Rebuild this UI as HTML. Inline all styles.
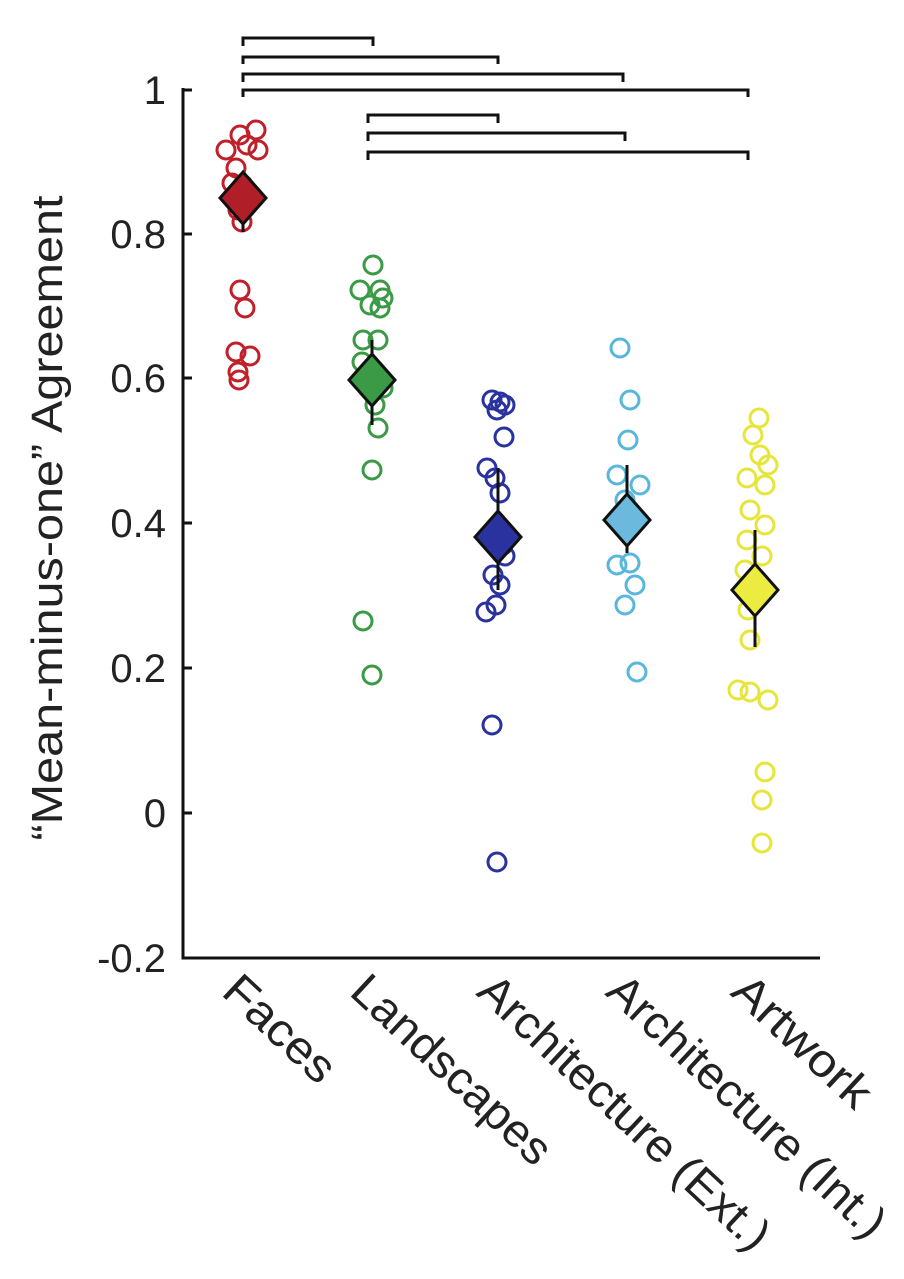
<!DOCTYPE html>
<html><head><meta charset="utf-8"><style>html,body{margin:0;padding:0;background:#fff}svg{display:block}</style></head>
<body>
<svg width="904" height="1279" viewBox="0 0 904 1279" xmlns="http://www.w3.org/2000/svg" font-family="Liberation Sans, Arial, sans-serif">
<g stroke="#111" stroke-width="3" fill="none">
<path d="M243,46 V38 H373 V46"/>
<path d="M243,64 V57 H498 V64"/>
<path d="M243,82 V74 H623 V82"/>
<path d="M243,97 V90 H748 V97"/>
<path d="M368,123 V115 H498 V123"/>
<path d="M368,141 V133 H625 V141"/>
<path d="M368,160 V152 H748 V160"/>
<path d="M183,88 V958 H820"/>
<path d="M183,90 H192 M183,234 H192 M183,378 H192 M183,523 H192 M183,668 H192 M183,813 H192"/>
</g>
<g font-size="40" fill="#222" text-anchor="end">
<text x="166" y="104">1</text>
<text x="166" y="248">0.8</text>
<text x="166" y="392">0.6</text>
<text x="166" y="537">0.4</text>
<text x="166" y="682">0.2</text>
<text x="166" y="827">0</text>
<text x="166" y="972">-0.2</text>
</g>
<text transform="translate(62,518) rotate(-90)" font-size="44" fill="#222" text-anchor="middle" textLength="645" lengthAdjust="spacingAndGlyphs">“Mean-minus-one” Agreement</text>
<g font-size="46" fill="#222">
<text transform="translate(220,994) rotate(43)" textLength="135" lengthAdjust="spacingAndGlyphs">Faces</text>
<text transform="translate(348,994) rotate(43)" textLength="255" lengthAdjust="spacingAndGlyphs">Landscapes</text>
<text transform="translate(475,994) rotate(43)" textLength="380" lengthAdjust="spacingAndGlyphs">Architecture (Ext.)</text>
<text transform="translate(604,994) rotate(43)" textLength="362" lengthAdjust="spacingAndGlyphs">Architecture (Int.)</text>
<text transform="translate(729,994) rotate(43)" textLength="172" lengthAdjust="spacingAndGlyphs">Artwork</text>
</g>
<g fill="none" stroke-width="3">
<g stroke="#c0202a">
<circle cx="240" cy="135" r="9"/><circle cx="256" cy="130" r="9"/><circle cx="247" cy="145" r="9"/><circle cx="226" cy="150" r="9"/><circle cx="258" cy="150" r="9"/><circle cx="236" cy="168" r="9"/><circle cx="232" cy="183" r="9"/><circle cx="243" cy="185" r="9"/><circle cx="250" cy="195" r="9"/><circle cx="238" cy="210" r="9"/><circle cx="242" cy="222" r="9"/><circle cx="240" cy="290" r="9"/><circle cx="245" cy="308" r="9"/><circle cx="236" cy="352" r="9"/><circle cx="250" cy="356" r="9"/><circle cx="238" cy="372" r="9"/><circle cx="239" cy="380" r="9"/>
</g>
<g stroke="#3a9a45">
<circle cx="373" cy="265" r="9"/><circle cx="360" cy="290" r="9"/><circle cx="380" cy="290" r="9"/><circle cx="383" cy="298" r="9"/><circle cx="370" cy="305" r="9"/><circle cx="380" cy="308" r="9"/><circle cx="363" cy="340" r="9"/><circle cx="378" cy="340" r="9"/><circle cx="362" cy="362" r="9"/><circle cx="375" cy="372" r="9"/><circle cx="383" cy="388" r="9"/><circle cx="375" cy="405" r="9"/><circle cx="378" cy="428" r="9"/><circle cx="372" cy="470" r="9"/><circle cx="363" cy="621" r="9"/><circle cx="372" cy="675" r="9"/>
</g>
<g stroke="#2a32a0">
<circle cx="492" cy="400" r="9"/><circle cx="500" cy="402" r="9"/><circle cx="497" cy="410" r="9"/><circle cx="505" cy="405" r="9"/><circle cx="504" cy="437" r="9"/><circle cx="487" cy="468" r="9"/><circle cx="495" cy="478" r="9"/><circle cx="500" cy="493" r="9"/><circle cx="490" cy="540" r="9"/><circle cx="497" cy="548" r="9"/><circle cx="503" cy="545" r="9"/><circle cx="505" cy="556" r="9"/><circle cx="493" cy="575" r="9"/><circle cx="500" cy="585" r="9"/><circle cx="486" cy="612" r="9"/><circle cx="496" cy="605" r="9"/><circle cx="492" cy="725" r="9"/><circle cx="497" cy="862" r="9"/>
</g>
<g stroke="#5ab7dc">
<circle cx="620" cy="348" r="9"/><circle cx="630" cy="400" r="9"/><circle cx="628" cy="440" r="9"/><circle cx="617" cy="475" r="9"/><circle cx="640" cy="485" r="9"/><circle cx="625" cy="500" r="9"/><circle cx="623" cy="517" r="9"/><circle cx="617" cy="565" r="9"/><circle cx="630" cy="563" r="9"/><circle cx="635" cy="585" r="9"/><circle cx="625" cy="605" r="9"/><circle cx="637" cy="672" r="9"/>
</g>
<g stroke="#e6e63a">
<circle cx="759" cy="418" r="9"/><circle cx="753" cy="435" r="9"/><circle cx="760" cy="455" r="9"/><circle cx="768" cy="465" r="9"/><circle cx="747" cy="478" r="9"/><circle cx="765" cy="485" r="9"/><circle cx="750" cy="510" r="9"/><circle cx="765" cy="525" r="9"/><circle cx="747" cy="540" r="9"/><circle cx="762" cy="556" r="9"/><circle cx="745" cy="570" r="9"/><circle cx="748" cy="610" r="9"/><circle cx="750" cy="640" r="9"/><circle cx="738" cy="690" r="9"/><circle cx="750" cy="692" r="9"/><circle cx="768" cy="700" r="9"/><circle cx="765" cy="772" r="9"/><circle cx="762" cy="800" r="9"/><circle cx="762" cy="843" r="9"/>
</g>
</g>
<g stroke="#111" stroke-width="3">
<line x1="243" y1="172" x2="243" y2="232"/>
<line x1="372" y1="340" x2="372" y2="425"/>
<line x1="498" y1="468" x2="498" y2="590"/>
<line x1="627" y1="465" x2="627" y2="553"/>
<line x1="755" y1="530" x2="755" y2="647"/>
<path d="M243,172 L266,198 L243,224 L220,198 Z" fill="#b01e28"/>
<path d="M372,354 L395,380 L372,406 L349,380 Z" fill="#3a9a45"/>
<path d="M498,511 L521,537 L498,563 L475,537 Z" fill="#2a32a0"/>
<path d="M627,494 L650,520 L627,546 L604,520 Z" fill="#6bb9dc"/>
<path d="M755,564 L778,590 L755,616 L732,590 Z" fill="#ecec40"/>
</g>
</svg>
</body></html>
